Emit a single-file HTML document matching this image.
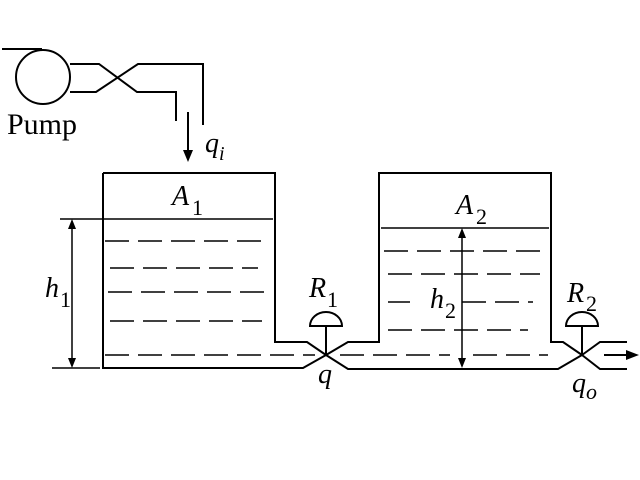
<!DOCTYPE html>
<html><head><style>body{margin:0;background:#fff}svg{display:block}</style></head>
<body>
<svg width="640" height="480" xmlns="http://www.w3.org/2000/svg" font-family="Liberation Serif, serif">
<g stroke="#000" stroke-width="2" fill="none">
<line x1="2" y1="49" x2="42" y2="49"/>
<circle cx="43" cy="77" r="27"/>
<polyline points="70,64 99,64 137,92 176,92 176,121"/>
<polyline points="70,92 96,92 138,64 203,64 203,125"/>
<polyline points="103,173 103,368 303,368 326,355"/>
<polyline points="103,173 275,173 275,342 307,342 326,355"/>
<polyline points="326,355 348,342 379,342 379,173 551,173 551,342 563,342 582,355"/>
<polyline points="326,355 348,369 558,369 582,355"/>
<polyline points="582,355 600,342 627,342"/>
<polyline points="582,355 600,369 627,369"/>
</g>
<g stroke="#000" stroke-width="1.5" fill="none">
<line x1="60" y1="219" x2="273" y2="219"/>
<line x1="381" y1="228" x2="549" y2="228"/>
<line x1="72" y1="225" x2="72" y2="362"/>
<line x1="52" y1="368" x2="100" y2="368"/>
<line x1="462" y1="234" x2="462" y2="362"/>
<g stroke-dasharray="24,9">
<line x1="105" y1="241" x2="265" y2="241"/>
<line x1="110" y1="268" x2="258" y2="268"/>
<line x1="108" y1="292" x2="265" y2="292"/>
<line x1="110" y1="321" x2="262" y2="321"/>
<line x1="105" y1="355" x2="315" y2="355"/>
<line x1="340" y1="355" x2="450" y2="355"/>
<line x1="473" y1="355" x2="548" y2="355"/>
<line x1="384" y1="251" x2="548" y2="251"/>
<line x1="388" y1="274" x2="540" y2="274"/>
<line x1="388" y1="330" x2="528" y2="330"/>
<line x1="462" y1="302" x2="533" y2="302"/>
</g>
<line x1="388" y1="302" x2="410" y2="302"/>
</g>
<g fill="#000">
<polygon points="72,219 68,229 76,229"/>
<polygon points="72,368 68,358 76,358"/>
<polygon points="462,228 458,238 466,238"/>
<polygon points="462,368 458,358 466,358"/>
<line x1="188" y1="112" x2="188" y2="152" stroke="#000" stroke-width="2"/>
<polygon points="188,162 183,150 193,150"/>
<line x1="604" y1="355" x2="628" y2="355" stroke="#000" stroke-width="2"/>
<polygon points="639,355 626,350 626,360"/>
</g>
<g stroke="#000" stroke-width="2" fill="none">
<line x1="326" y1="326" x2="326" y2="355"/>
<path d="M310,326 A16,14 0 0 1 342,326 Z"/>
<line x1="582" y1="326" x2="582" y2="355"/>
<path d="M566,326 A16,14 0 0 1 598,326 Z"/>
</g>
<g font-size="28" fill="#000">
<text x="7" y="134" font-size="30">Pump</text>
<text x="205" y="152" font-style="italic">q</text><text x="219" y="160" font-size="20" font-style="italic">i</text>
<text x="172" y="205" font-style="italic">A</text><text x="192" y="215" font-size="22">1</text>
<text x="456" y="214" font-style="italic">A</text><text x="476" y="224" font-size="22">2</text>
<text x="45" y="297" font-style="italic">h</text><text x="60" y="307" font-size="22">1</text>
<text x="430" y="308" font-style="italic">h</text><text x="445" y="318" font-size="22">2</text>
<text x="309" y="297" font-style="italic">R</text><text x="327" y="307" font-size="22">1</text>
<text x="567" y="302" font-style="italic">R</text><text x="586" y="311" font-size="22">2</text>
<text x="318" y="383" font-style="italic">q</text>
<text x="572" y="392" font-style="italic">q</text><text x="586" y="399" font-size="22" font-style="italic">o</text>
</g>
</svg>
</body></html>
